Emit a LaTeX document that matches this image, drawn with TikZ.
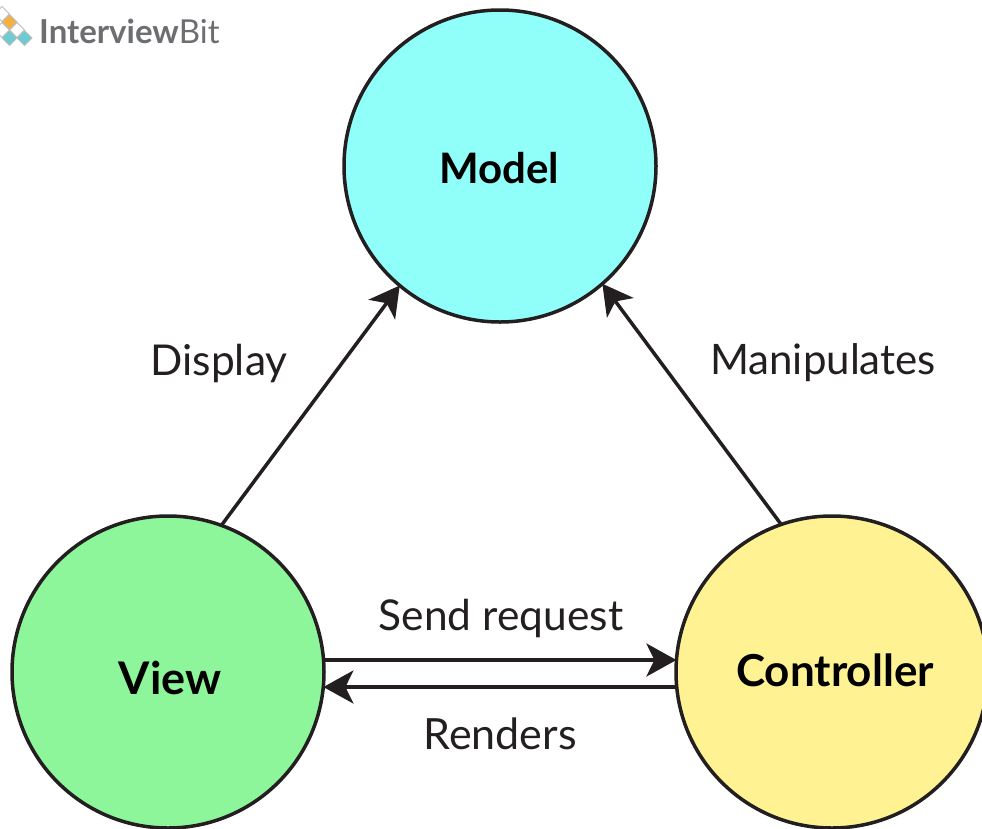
\documentclass[tikz,border=0pt]{standalone}
\usepackage{fontspec}
\setmainfont{Lato}
\usetikzlibrary{arrows.meta,calc}
\definecolor{ink}{HTML}{231F20}
\definecolor{modelc}{HTML}{90FFF9}
\definecolor{viewc}{HTML}{8DF59A}
\definecolor{ctrlc}{HTML}{FFF293}
\definecolor{logog}{HTML}{6D6E71}
\definecolor{logot}{HTML}{6CCBD3}
\definecolor{logoo}{HTML}{F5B041}
\tikzset{
  x=1pt,y=-1pt,
  mvc/.style={circle,draw=ink,line width=3.5pt,minimum size=312pt,inner sep=0pt,outer sep=0pt,text=black},
  title/.style={font=\fontsize{#1}{48}\selectfont\bfseries,inner sep=0pt,text=black},
  lbl/.style={font=\fontsize{#1}{50}\selectfont,text=ink,inner sep=0pt},
  link/.style={draw=ink,line width=3.5pt,-{Stealth[length=30pt,width=33pt,inset=8pt]}},
  cell/.style={fill=#1,draw=logog!45,line width=.8pt},
}
\newcommand{\logocell}[3]{\path[cell=#3] (#1,#2-7.5) -- (#1+7.5,#2) -- (#1,#2+7.5) -- (#1-7.5,#2) -- cycle;}
\begin{document}
\begin{tikzpicture}
\useasboundingbox (0,0) rectangle (982,828);
\begin{scope}
\clip (0,0) rectangle (982,828);
\node[mvc,fill=modelc] (model) at (500,166) {};
\node[mvc,fill=viewc] (view) at (168,672) {};
\node[mvc,fill=ctrlc] (ctrl) at (832,672) {};
\node[title=42] (modelt) at (499,168) {Model};
\node[title=45] (viewt) at (170,678) {View};
\node[title=44] (ctrlt) at (835,670) {Controller};
\draw[link] (view.70.8) -- (model.230);
\draw[link] (ctrl.109.2) -- (model.-49.6);
\draw[link] ($(view.center)+(155.6,-12)$) -- ($(ctrl.center)+(-155.6,-12)$);
\draw[link] ($(ctrl.center)+(-155.4,15)$) -- ($(view.center)+(155.4,15)$);
% logo
\logocell{2}{14}{white}
\logocell{2}{30}{white}
\logocell{17}{30}{white}
\logocell{9.5}{22}{logoo}
\logocell{9.5}{38}{logot}
\logocell{24.5}{38}{logot}
\end{scope}
\node[anchor=west,inner sep=0pt,font=\fontsize{33}{38}\selectfont\bfseries,text=logog] (logo) at (39,31) {Interview{\fontseries{l}\selectfont Bit}};
\node[lbl=42.5] (display) at (219,363) {Display};
\node[lbl=42] (manip) at (823,363) {Manipulates};
\node[lbl=42.5] (send) at (501,618) {Send request};
\node[lbl=43] (render) at (500,733.5) {Renders};
\end{tikzpicture}
\end{document}
